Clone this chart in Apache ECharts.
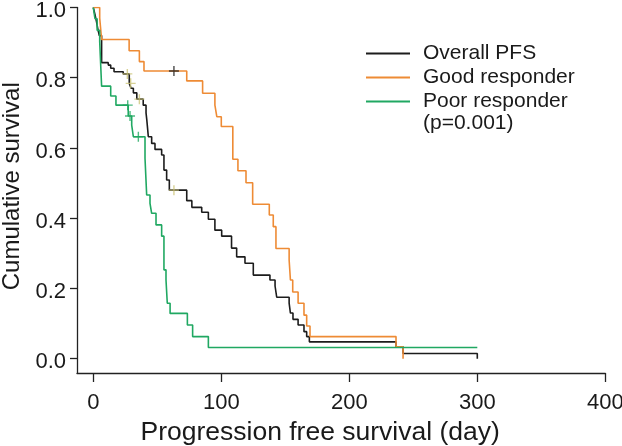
<!DOCTYPE html>
<html>
<head>
<meta charset="utf-8">
<script src="https://cdn.jsdelivr.net/npm/echarts@6/dist/echarts.min.js"></script>
<style>html,body{margin:0;padding:0;background:#fff}#c{width:622px;height:446px}</style>
</head>
<body>
<div id="c"></div>
<script>
// Overall PFS (Kaplan-Meier step points: time in days, survival after event)
const overallTimes = [0, 1.3, 2.5, 3.5, 4.7, 6.5, 11.7, 13.6, 16.2, 23.4, 28.1, 29.5, 31.3, 34, 39, 41.2, 41.8, 42.3, 43, 45.6, 48.2, 53.4, 55.2, 57.3, 59.4, 73, 77, 84.7, 89.9, 95, 100.3, 108, 112, 118.5, 125, 138, 142, 143.3, 153, 154, 156, 160, 164.6, 166.7, 168.8, 236.5, 242, 300, 300];
const overallSurv  = [1, 0.98, 0.96, 0.94, 0.92, 0.843, 0.836, 0.827, 0.817, 0.811, 0.784, 0.77, 0.757, 0.739, 0.722, 0.70, 0.68, 0.66, 0.632, 0.613, 0.596, 0.58, 0.537, 0.509, 0.48, 0.45, 0.431, 0.417, 0.397, 0.366, 0.349, 0.315, 0.29, 0.272, 0.238, 0.224, 0.207, 0.175, 0.158, 0.13, 0.112, 0.096, 0.077, 0.063, 0.048, 0.034, 0.015, 0.015, 0];
// Good responder
const goodTimes = [0, 5, 6.5, 28, 36, 39.6, 73, 85.4, 95, 96.5, 100, 109, 113, 119.3, 124.5, 137.5, 140.6, 142.7, 153, 154, 155.8, 160, 164.6, 166.7, 169.3, 236.5, 242];
const goodSurv  = [1, 0.97, 0.909, 0.877, 0.846, 0.819, 0.791, 0.756, 0.722, 0.689, 0.661, 0.568, 0.535, 0.501, 0.44, 0.409, 0.376, 0.314, 0.281, 0.224, 0.19, 0.158, 0.124, 0.093, 0.063, 0.034, 0];
// Poor responder
const poorTimes = [0, 1.3, 3, 5, 6.5, 13.6, 17.7, 27.3, 30, 31.3, 40.4, 41.7, 44.3, 45.6, 49, 53.4, 55.2, 56.8, 57.8, 60, 73.5, 77.6, 89.9, 300];
const poorSurv  = [1, 0.968, 0.935, 0.903, 0.776, 0.748, 0.722, 0.691, 0.665, 0.632, 0.571, 0.466, 0.442, 0.414, 0.381, 0.349, 0.253, 0.224, 0.158, 0.129, 0.096, 0.063, 0.032, 0.032];
// Censor marks
const censorOnGood    = [[63, 0.819]];
const censorOnOverall = [[26.6, 0.811], [29.2, 0.784], [36, 0.739], [63, 0.48]];
const censorOnPoor    = [[26.9, 0.722], [28.7, 0.691], [35.2, 0.632]];
// Axis ticks and labels
const xTicks = [0, 100, 200, 300, 400];
const yTicks = [0, 0.2, 0.4, 0.6, 0.8, 1.0];
const seriesNames = ['Overall PFS', 'Good responder', 'Poor responder'];
const pText = '(p=0.001)';
const xTitle = 'Progression free survival (day)';
const yTitle = 'Cumulative survival';

const zip = (a, b) => a.map((t, i) => [t, b[i]]);
const C_BLACK = '#1c1c1c', C_ORANGE = '#EE8B35', C_GREEN = '#20A862', C_KHAKI = '#CDC67A';
const FONT = 'Liberation Sans, Arial, sans-serif';
const plus = 'path://M5,0 L5,10 M0,5 L10,5';

function lineSeries(name, data, color) {
  return { name, type: 'line', step: 'end', data, symbol: 'none', showSymbol: false,
    lineStyle: { color, width: 1.6 }, itemStyle: { color }, animation: false, z: 3 };
}
function censorSeries(data, color) {
  return { type: 'scatter', data, symbol: plus, symbolSize: 10,
    itemStyle: { color: 'transparent', borderColor: color, borderWidth: 1.4 }, animation: false, z: 4, silent: true };
}

const chart = echarts.init(document.getElementById('c'));
chart.setOption({
  backgroundColor: '#fff',
  animation: false,
  textStyle: { fontFamily: FONT },
  grid: { left: 77, right: 16.7, top: 7.5, bottom: 73, containLabel: false, outerBoundsMode: 'none' },
  title: { text: pText, left: 423, top: 113, padding: 0,
    textStyle: { fontSize: 21, fontWeight: 'normal', color: '#1a1a1a', fontFamily: FONT } },
  legend: {
    data: seriesNames, orient: 'vertical', left: 366, top: 43, padding: 0,
    itemWidth: 44, itemHeight: 2, itemGap: 3, icon: 'rect',
    textStyle: { fontSize: 21, color: '#1a1a1a', fontFamily: FONT, lineHeight: 21, padding: [0, 0, 0, 8] }
  },
  xAxis: {
    type: 'value', min: -12.73, max: 400,
    name: xTitle, nameLocation: 'middle', nameGap: 45,
    nameTextStyle: { fontSize: 26.5, color: '#1a1a1a', fontFamily: FONT, padding: [0, 42, 0, 0] },
    axisLine: { show: true, onZero: false, lineStyle: { color: '#222', width: 1.3 } },
    axisTick: { show: true, customValues: xTicks, length: 9, lineStyle: { color: '#222', width: 1.3 } },
    axisLabel: { customValues: xTicks, fontSize: 22, color: '#1a1a1a', margin: 19, fontFamily: FONT },
    splitLine: { show: false }
  },
  yAxis: {
    type: 'value', min: -0.0407, max: 1,
    name: yTitle, nameLocation: 'middle', nameGap: 51,
    nameTextStyle: { fontSize: 24, color: '#1a1a1a', fontFamily: FONT, padding: [0, 0, 0, 8] },
    axisLine: { show: true, onZero: false, lineStyle: { color: '#222', width: 1.3 } },
    axisTick: { show: true, customValues: yTicks, length: 7, lineStyle: { color: '#222', width: 1.3 } },
    axisLabel: { customValues: yTicks, fontSize: 22, color: '#1a1a1a', margin: 11, fontFamily: FONT,
      verticalAlign: 'top', lineHeight: 7, formatter: v => v.toFixed(1) },
    splitLine: { show: false }
  },
  series: [
    lineSeries(seriesNames[0], zip(overallTimes, overallSurv), C_BLACK),
    lineSeries(seriesNames[1], zip(goodTimes, goodSurv), C_ORANGE),
    lineSeries(seriesNames[2], zip(poorTimes, poorSurv), C_GREEN),
    censorSeries(censorOnGood, C_BLACK),
    censorSeries(censorOnOverall, C_KHAKI),
    censorSeries(censorOnPoor, C_GREEN)
  ]
});
</script>
</body>
</html>
